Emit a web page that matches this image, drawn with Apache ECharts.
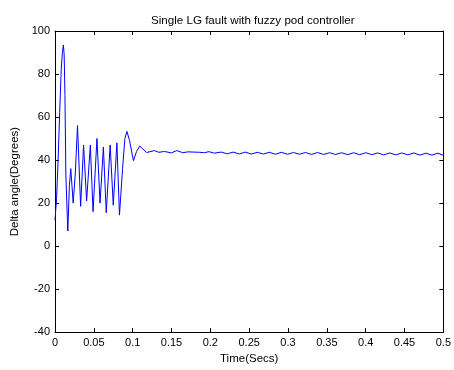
<!DOCTYPE html>
<html>
<head>
<meta charset="utf-8">
<script src="https://cdn.jsdelivr.net/npm/echarts@6/dist/echarts.min.js"></script>
<style>
html,body{margin:0;padding:0;background:#fff;}
#c{width:454px;height:370px;}
</style>
</head>
<body>
<div id="c"></div>
<script>
var chartTitle = "Single LG fault with fuzzy pod controller";
var xName = "Time(Secs)";
var yName = "Delta angle(Degrees)";
var xTicks = [0, 0.05, 0.1, 0.15, 0.2, 0.25, 0.3, 0.35, 0.4, 0.45, 0.5];
var yTicks = [-40, -20, 0, 20, 40, 60, 80, 100];

var timeSecs = [
  0, 0.002, 0.004, 0.006, 0.008, 0.0095, 0.0108, 0.0118, 0.0128, 0.014, 0.0165, 0.0185,
  0.0203, 0.0234, 0.026, 0.029, 0.033, 0.0368, 0.0407, 0.0455, 0.049, 0.054,
  0.058, 0.0623, 0.066, 0.071, 0.075, 0.0797, 0.083, 0.087, 0.090, 0.0926, 0.096, 0.101, 0.105, 0.109,
  0.113, 0.118, 0.128, 0.1337, 0.141, 0.1496, 0.1568, 0.1645, 0.171, 0.186, 0.1924,
  0.198, 0.2053, 0.214, 0.2218, 0.2295, 0.2373, 0.245, 0.2528, 0.2605, 0.2683,
  0.276, 0.2838, 0.2915, 0.2993, 0.307, 0.3148, 0.3225, 0.3303, 0.338, 0.3458,
  0.3535, 0.3613, 0.369, 0.3768, 0.3845, 0.3923, 0.400, 0.4078, 0.4155, 0.4233,
  0.431, 0.4388, 0.4465, 0.4543, 0.462, 0.4698, 0.4775, 0.4853, 0.493, 0.5
];
var deltaDeg = [
  12, 22, 40, 62, 82, 90, 93.5, 89, 70, 33, 7, 28,
  36, 20, 33, 56, 18.5, 47, 21, 47, 16, 50,
  20, 46, 15.5, 47, 19, 48, 14.4, 36, 50, 53.3, 49, 39.7, 44, 46.5,
  45.2, 43.5, 44.4, 43.6, 44.0, 43.3, 44.4, 43.4, 43.8, 43.6, 43.4,
  43.9, 43.2, 43.7, 42.9, 43.7, 42.8, 43.7, 42.8, 43.6, 42.8,
  43.6, 42.7, 43.6, 42.7, 43.5, 42.7, 43.5, 42.6, 43.5, 42.6,
  43.4, 42.6, 43.4, 42.5, 43.4, 42.5, 43.4, 42.5, 43.3, 42.4,
  43.3, 42.4, 43.3, 42.4, 43.3, 42.3, 43.2, 42.3, 43.2, 42.2
];

var pts = timeSecs.map(function (t, i) { return [t, deltaDeg[i]]; });
var FONT = "Liberation Sans, Arial, sans-serif";

var chart = echarts.init(document.getElementById('c'), null, {renderer: 'canvas'});
var baseX = {
  type: 'value', min: xTicks[0], max: xTicks[xTicks.length - 1], interval: 0.05,
  splitLine: {show: false},
  axisLine: {show: true, onZero: false, lineStyle: {color: '#000', width: 1}},
  axisTick: {show: true, inside: true, length: 4, lineStyle: {color: '#000'}}
};
var baseY = {
  type: 'value', min: yTicks[0], max: yTicks[yTicks.length - 1], interval: 20,
  splitLine: {show: false},
  axisLine: {show: true, onZero: false, lineStyle: {color: '#000', width: 1}},
  axisTick: {show: true, inside: true, length: 4, lineStyle: {color: '#000'}}
};
chart.setOption({
  animation: false,
  backgroundColor: '#fff',
  title: {
    text: chartTitle, left: 146, top: 10,
    textStyle: {fontFamily: FONT, fontSize: 11.6, fontWeight: 'normal', color: '#000'}
  },
  grid: {left: 55, right: 10, top: 31, bottom: 32},
  xAxis: [
    Object.assign({}, baseX, {
      position: 'bottom',
      name: xName, nameLocation: 'middle', nameGap: 19,
      nameTextStyle: {fontFamily: FONT, fontSize: 11.5, color: '#000'},
      axisLabel: {show: true, margin: 5, fontFamily: FONT, fontSize: 11, color: '#000',
        formatter: function (v) { return String(+v.toFixed(2)); }}
    }),
    Object.assign({}, baseX, {position: 'top', axisLabel: {show: false}})
  ],
  yAxis: [
    Object.assign({}, baseY, {
      position: 'left',
      name: yName, nameLocation: 'middle', nameGap: 30, nameRotate: 90,
      nameTextStyle: {fontFamily: FONT, fontSize: 11.5, color: '#000'},
      axisLabel: {show: true, margin: 5, fontFamily: FONT, fontSize: 11, color: '#000'}
    }),
    Object.assign({}, baseY, {position: 'right', axisLabel: {show: false}})
  ],
  series: [{
    type: 'line', data: pts, xAxisIndex: 0, yAxisIndex: 0,
    showSymbol: false, smooth: false,
    lineStyle: {color: '#0000ff', width: 1}
  }]
});
</script>
</body>
</html>
